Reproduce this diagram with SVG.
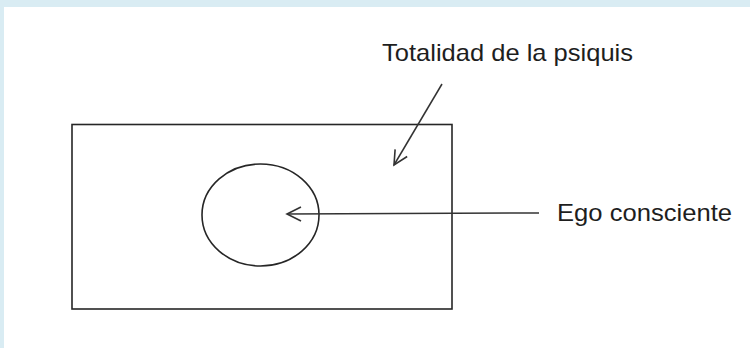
<svg xmlns="http://www.w3.org/2000/svg" width="750" height="348" viewBox="0 0 750 348">
  <style>
    .shape { fill: none; stroke: #262626; stroke-width: 1.6; }
    .conn { fill: none; stroke: #333333; stroke-width: 1.5; }
    .label { font-family: "Liberation Sans", Arial, sans-serif; font-size: 24px; fill: #1e1e1e; }
  </style>
  <defs>
    <marker id="openArrow" viewBox="0 0 16 16" refX="15" refY="8" markerWidth="16" markerHeight="16" markerUnits="userSpaceOnUse" orient="auto" overflow="visible">
      <path d="M1,1 L15,8 L1,15" fill="none" stroke="#333333" stroke-width="1.6"/>
    </marker>
  </defs>
  <rect x="0" y="0" width="750" height="348" fill="#d9ecf3"/>
  <rect x="4" y="7" width="746" height="341" fill="#ffffff"/>

  <g id="psique">
    <rect class="shape" x="72" y="124.5" width="380" height="184.5"/>
  </g>
  <g id="ego">
    <ellipse class="shape" cx="260.5" cy="215" rx="58.5" ry="51"/>
  </g>
  <g id="label-totalidad">
    <text class="label" x="382" y="61" textLength="251" lengthAdjust="spacingAndGlyphs">Totalidad de la psiquis</text>
  </g>
  <g id="label-ego">
    <text class="label" x="557" y="221" textLength="175" lengthAdjust="spacingAndGlyphs">Ego consciente</text>
  </g>

  <g id="connectors">
    <line class="conn" x1="442" y1="84" x2="394" y2="165" marker-end="url(#openArrow)"/>
    <line class="conn" x1="539" y1="213" x2="287" y2="214" marker-end="url(#openArrow)"/>
  </g>
</svg>
